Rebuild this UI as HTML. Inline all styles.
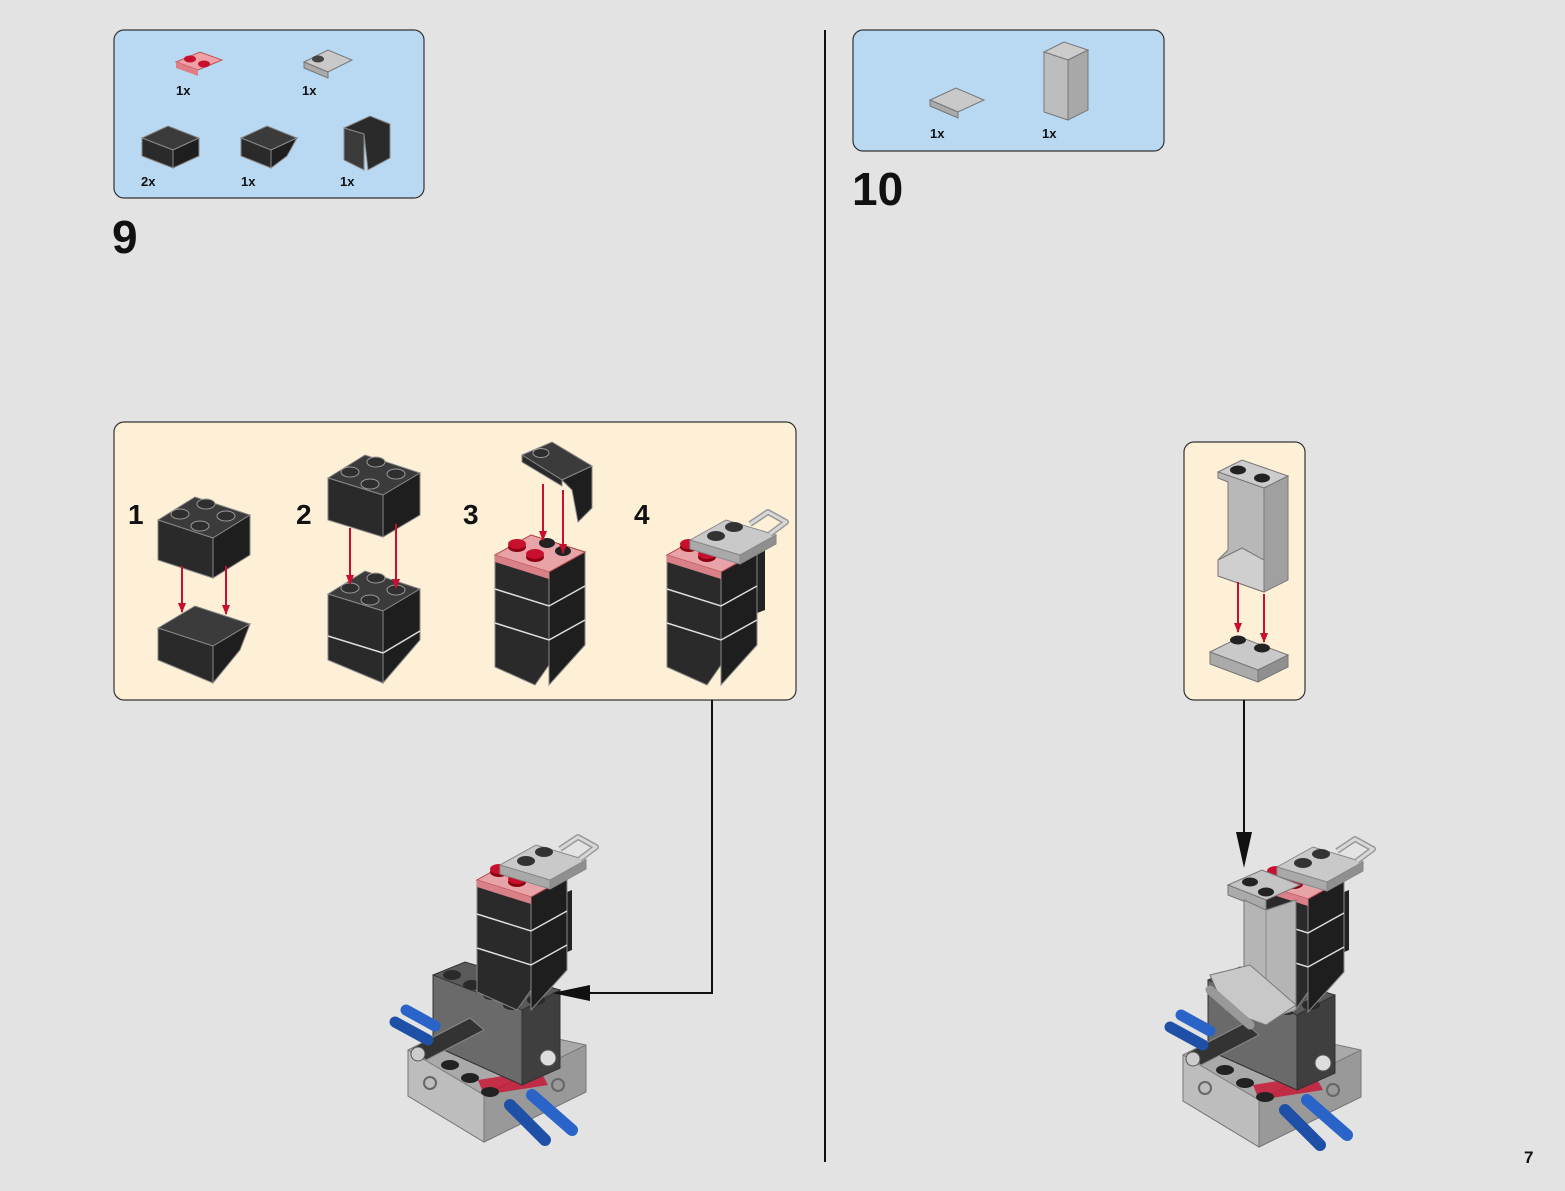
<!DOCTYPE html>
<html><head><meta charset="utf-8"><style>
html,body{margin:0;padding:0;background:#e3e3e3;}
svg{display:block}
text{font-family:"Liberation Sans",Arial,sans-serif;font-weight:bold;fill:#111}
</style></head><body>
<svg width="1565" height="1191" viewBox="0 0 1565 1191" xmlns="http://www.w3.org/2000/svg">
<defs>
<marker id="ra" markerWidth="10" markerHeight="8" refX="9" refY="4" orient="auto" markerUnits="userSpaceOnUse" viewBox="0 0 10 8"><path d="M0,0 L10,4 L0,8z" fill="#c8102e"/></marker>
<g id="tower">
 <polygon points="0,10 36,-10 90,7 54,27" fill="#3b3b3b" stroke="#777" stroke-width="1"/>
 <polygon points="0,10 54,27 54,120 40,140 0,122" fill="#2a2a2a" stroke="#888" stroke-width="1"/>
 <polygon points="54,27 90,7 90,100 72,120 54,140 54,120" fill="#1e1e1e" stroke="#888" stroke-width="1"/>
 <path d="M0,44 L54,61 L90,41 M0,78 L54,95 L90,75" stroke="#ddd" stroke-width="1.5" fill="none"/>
</g>
<g id="redtop">
 <polygon points="0,10 36,-10 90,7 54,27" fill="#e8a3a8" stroke="#b44" stroke-width="1"/>
 <polygon points="0,10 54,27 54,34 0,17" fill="#d98088"/>
 <ellipse cx="22" cy="2" rx="9" ry="5" fill="#8a0010"/><ellipse cx="22" cy="-1" rx="9" ry="5" fill="#c8102e"/>
 <ellipse cx="40" cy="12" rx="9" ry="5" fill="#8a0010"/><ellipse cx="40" cy="9" rx="9" ry="5" fill="#c8102e"/>
 <ellipse cx="52" cy="-2" rx="8" ry="5" fill="#222"/><ellipse cx="68" cy="6" rx="8" ry="5" fill="#222"/>
</g>
<g id="grayplate">
 <polygon points="0,10 36,-10 86,5 50,25" fill="#c9c9c9" stroke="#888"/>
 <polygon points="0,10 50,25 50,34 0,19" fill="#a9a9a9" stroke="#888"/>
 <polygon points="50,25 86,5 86,14 50,34" fill="#8f8f8f" stroke="#888"/>
 <ellipse cx="26" cy="6" rx="9" ry="5" fill="#333"/><ellipse cx="44" cy="-3" rx="9" ry="5" fill="#333"/>
 <path d="M60,-6 L78,-18 L96,-8 L80,4" stroke="#999" stroke-width="6" fill="none" stroke-linejoin="round"/>
 <path d="M60,-6 L78,-18 L96,-8 L80,4" stroke="#d8d8d8" stroke-width="3" fill="none" stroke-linejoin="round"/>
</g>
<g id="base">
 <polygon points="408,1050 470,1020 586,1045 586,1092 484,1142 408,1096" fill="#a9a9a9" stroke="#777"/>
 <polygon points="408,1050 484,1095 484,1142 408,1096" fill="#bdbdbd" stroke="#777"/>
 <polygon points="484,1095 586,1045 586,1092 484,1142" fill="#999" stroke="#777"/>
 <circle cx="430" cy="1083" r="6" fill="none" stroke="#666" stroke-width="2"/>
 <circle cx="558" cy="1085" r="6" fill="none" stroke="#666" stroke-width="2"/>
 <polygon points="478,1080 540,1070 548,1085 484,1095" fill="#c8102e" opacity="0.8"/>
 <ellipse cx="450" cy="1065" rx="9" ry="5" fill="#222"/><ellipse cx="470" cy="1078" rx="9" ry="5" fill="#222"/><ellipse cx="490" cy="1092" rx="9" ry="5" fill="#222"/>
 <polygon points="433,975 465,962 560,990 560,1068 522,1085 433,1045" fill="#5a5a5a" stroke="#333"/>
 <polygon points="522,1010 560,990 560,1068 522,1085" fill="#3f3f3f" stroke="#333"/>
 <polygon points="433,975 522,1010 522,1085 433,1045" fill="#6a6a6a" stroke="#333"/>
 <ellipse cx="452" cy="975" rx="9" ry="5" fill="#2a2a2a"/><ellipse cx="472" cy="985" rx="9" ry="5" fill="#2a2a2a"/>
 <ellipse cx="492" cy="995" rx="9" ry="5" fill="#2a2a2a"/><ellipse cx="512" cy="1005" rx="9" ry="5" fill="#2a2a2a"/>
 <ellipse cx="536" cy="1000" rx="9" ry="5" fill="#2a2a2a"/>
 <circle cx="548" cy="1058" r="8" fill="#ddd" stroke="#555"/>
 <polygon points="412,1048 470,1018 484,1030 426,1060" fill="#333" stroke="#888"/>
 <circle cx="418" cy="1054" r="7" fill="#ccc" stroke="#555"/>
 <line x1="395" y1="1022" x2="428" y2="1040" stroke="#1e50a8" stroke-width="11" stroke-linecap="round"/>
 <line x1="406" y1="1010" x2="435" y2="1026" stroke="#2a64c8" stroke-width="11" stroke-linecap="round"/>
 <line x1="510" y1="1105" x2="545" y2="1140" stroke="#1e50a8" stroke-width="12" stroke-linecap="round"/>
 <line x1="532" y1="1095" x2="572" y2="1130" stroke="#2a64c8" stroke-width="12" stroke-linecap="round"/>
</g>
</defs>

<line x1="825" y1="30" x2="825" y2="1162" stroke="#111" stroke-width="2"/>

<rect x="114" y="30" width="310" height="168" rx="10" fill="#b9d9f3" stroke="#333" stroke-width="1.2"/>
<polygon points="176,62 200,52 222,60 198,70" fill="#f0a0a8" stroke="#b55"/><polygon points="176,62 198,70 198,76 176,68" fill="#e07e88"/>
<ellipse cx="190" cy="59" rx="6" ry="3.5" fill="#c8102e"/><ellipse cx="204" cy="64" rx="6" ry="3.5" fill="#c8102e"/>
<text x="176" y="95" font-size="13">1x</text>
<polygon points="304,62 328,50 352,60 328,72" fill="#c9c9c9" stroke="#777"/><polygon points="304,62 328,72 328,78 304,68" fill="#aaa" stroke="#777"/>
<ellipse cx="318" cy="59" rx="6" ry="3.5" fill="#444"/>
<text x="302" y="95" font-size="13">1x</text>
<polygon points="142,138 168,126 199,138 173,150" fill="#3b3b3b" stroke="#888"/><polygon points="142,138 173,150 173,168 142,156" fill="#2a2a2a" stroke="#888"/><polygon points="173,150 199,138 199,156 173,168" fill="#1e1e1e" stroke="#888"/>
<text x="141" y="186" font-size="13">2x</text>
<polygon points="241,138 267,126 297,138 271,150" fill="#3b3b3b" stroke="#888"/><polygon points="241,138 271,150 271,168 241,156" fill="#2a2a2a" stroke="#888"/><polygon points="271,150 297,138 287,156 271,168" fill="#1e1e1e" stroke="#888"/>
<text x="241" y="186" font-size="13">1x</text>
<polygon points="344,128 370,116 390,124 390,158 368,170 364,134" fill="#2a2a2a" stroke="#888"/><polygon points="344,128 364,134 364,170 344,160" fill="#3b3b3b" stroke="#888"/>
<text x="340" y="186" font-size="13">1x</text>
<text x="112" y="253" font-size="46">9</text>

<rect x="853" y="30" width="311" height="121" rx="10" fill="#b9d9f3" stroke="#333" stroke-width="1.2"/>
<polygon points="930,100 956,88 984,100 958,112" fill="#c9c9c9" stroke="#777"/><polygon points="930,100 958,112 958,118 930,106" fill="#aaa" stroke="#777"/>
<text x="930" y="138" font-size="13">1x</text>
<polygon points="1044,52 1064,42 1088,50 1068,60" fill="#ccc" stroke="#777"/>
<polygon points="1068,60 1088,50 1088,110 1068,120" fill="#a8a8a8" stroke="#777"/>
<polygon points="1044,52 1068,60 1068,120 1044,112" fill="#bdbdbd" stroke="#777"/>
<text x="1042" y="138" font-size="13">1x</text>
<text x="852" y="205" font-size="46">10</text>

<rect x="114" y="422" width="682" height="278" rx="10" fill="#fdf0d6" stroke="#333" stroke-width="1.2"/>
<text x="128" y="524" font-size="28">1</text>
<text x="296" y="524" font-size="28">2</text>
<text x="463" y="524" font-size="28">3</text>
<text x="634" y="524" font-size="28">4</text>

<polygon points="158,520 195,497 250,515 213,538" fill="#3b3b3b" stroke="#888"/>
<polygon points="158,520 213,538 213,578 158,560" fill="#2a2a2a" stroke="#888"/>
<polygon points="213,538 250,515 250,555 213,578" fill="#1e1e1e" stroke="#888"/>
<ellipse cx="180" cy="514" rx="9" ry="5" fill="#2f2f2f" stroke="#999"/><ellipse cx="200" cy="526" rx="9" ry="5" fill="#2f2f2f" stroke="#999"/>
<ellipse cx="206" cy="504" rx="9" ry="5" fill="#2f2f2f" stroke="#999"/><ellipse cx="226" cy="516" rx="9" ry="5" fill="#2f2f2f" stroke="#999"/>
<polygon points="158,628 195,606 250,624 213,646" fill="#3b3b3b" stroke="#888"/>
<polygon points="158,628 213,646 213,683 158,660" fill="#2a2a2a" stroke="#888"/>
<polygon points="213,646 250,624 240,650 213,683" fill="#1e1e1e" stroke="#888"/>
<line x1="182" y1="566" x2="182" y2="612" stroke="#c8102e" stroke-width="2" marker-end="url(#ra)"/>
<line x1="226" y1="566" x2="226" y2="614" stroke="#c8102e" stroke-width="2" marker-end="url(#ra)"/>

<polygon points="328,478 365,455 420,473 383,495" fill="#3b3b3b" stroke="#888"/>
<polygon points="328,478 383,495 383,537 328,520" fill="#2a2a2a" stroke="#888"/>
<polygon points="383,495 420,473 420,515 383,537" fill="#1e1e1e" stroke="#888"/>
<ellipse cx="350" cy="472" rx="9" ry="5" fill="#2f2f2f" stroke="#999"/><ellipse cx="370" cy="484" rx="9" ry="5" fill="#2f2f2f" stroke="#999"/>
<ellipse cx="376" cy="462" rx="9" ry="5" fill="#2f2f2f" stroke="#999"/><ellipse cx="396" cy="474" rx="9" ry="5" fill="#2f2f2f" stroke="#999"/>
<polygon points="328,594 365,571 420,589 383,611" fill="#3b3b3b" stroke="#888"/>
<polygon points="328,594 383,611 383,683 328,660" fill="#2a2a2a" stroke="#888"/>
<polygon points="383,611 420,589 420,640 383,683" fill="#1e1e1e" stroke="#888"/>
<line x1="328" y1="636" x2="383" y2="653" stroke="#ddd" stroke-width="1.5"/><line x1="383" y1="653" x2="420" y2="631" stroke="#ddd" stroke-width="1.5"/>
<ellipse cx="350" cy="588" rx="9" ry="5" fill="#2f2f2f" stroke="#999"/><ellipse cx="370" cy="600" rx="9" ry="5" fill="#2f2f2f" stroke="#999"/>
<ellipse cx="376" cy="578" rx="9" ry="5" fill="#2f2f2f" stroke="#999"/><ellipse cx="396" cy="590" rx="9" ry="5" fill="#2f2f2f" stroke="#999"/>
<line x1="350" y1="528" x2="350" y2="584" stroke="#c8102e" stroke-width="2" marker-end="url(#ra)"/>
<line x1="396" y1="524" x2="396" y2="588" stroke="#c8102e" stroke-width="2" marker-end="url(#ra)"/>

<use href="#tower" x="495" y="545"/>
<use href="#redtop" x="495" y="545"/>
<polygon points="522,455 552,442 592,466 562,480" fill="#3b3b3b" stroke="#888"/>
<polygon points="562,480 592,466 592,508 578,522 572,490" fill="#1e1e1e" stroke="#888"/>
<polygon points="522,455 562,480 562,486 522,462" fill="#2a2a2a" stroke="#888"/>
<ellipse cx="541" cy="453" rx="8" ry="4.5" fill="#2f2f2f" stroke="#999"/>
<line x1="543" y1="484" x2="543" y2="540" stroke="#c8102e" stroke-width="2" marker-end="url(#ra)"/>
<line x1="563" y1="490" x2="563" y2="553" stroke="#c8102e" stroke-width="2" marker-end="url(#ra)"/>

<polygon points="752,555 765,550 765,610 752,615" fill="#222"/>
<use href="#tower" x="667" y="545"/>
<use href="#redtop" x="667" y="545"/>
<use href="#grayplate" x="690" y="530"/>

<use href="#base"/>
<polygon points="560,895 572,890 572,950 560,955" fill="#222"/>
<use href="#tower" x="477" y="870"/>
<use href="#redtop" x="477" y="870"/>
<use href="#grayplate" x="500" y="855"/>

<polyline points="712,700 712,993 575,993" fill="none" stroke="#111" stroke-width="2"/>
<polygon points="552,993 590,985 590,1001" fill="#111"/>

<rect x="1184" y="442" width="121" height="258" rx="10" fill="#fdf0d6" stroke="#333" stroke-width="1.2"/>
<polygon points="1218,472 1242,460 1288,476 1264,488" fill="#ccc" stroke="#777"/>
<polygon points="1264,488 1288,476 1288,580 1264,592" fill="#a0a0a0" stroke="#777"/>
<polygon points="1218,472 1264,488 1264,592 1218,576 1218,560 1228,550 1228,482 1218,478" fill="#b8b8b8" stroke="#777"/>
<polygon points="1218,560 1242,548 1264,560 1264,592 1218,576" fill="#cfcfcf" stroke="#777"/>
<ellipse cx="1238" cy="470" rx="8" ry="4.5" fill="#222"/><ellipse cx="1262" cy="478" rx="8" ry="4.5" fill="#222"/>
<polygon points="1210,652 1240,637 1288,655 1258,670" fill="#c9c9c9" stroke="#777"/>
<polygon points="1210,652 1258,670 1258,682 1210,664" fill="#aaa" stroke="#777"/>
<polygon points="1258,670 1288,655 1288,667 1258,682" fill="#8f8f8f" stroke="#777"/>
<ellipse cx="1238" cy="640" rx="8" ry="4.5" fill="#222"/><ellipse cx="1262" cy="648" rx="8" ry="4.5" fill="#222"/>
<line x1="1238" y1="582" x2="1238" y2="632" stroke="#c8102e" stroke-width="2" marker-end="url(#ra)"/>
<line x1="1264" y1="594" x2="1264" y2="642" stroke="#c8102e" stroke-width="2" marker-end="url(#ra)"/>

<line x1="1244" y1="700" x2="1244" y2="845" stroke="#111" stroke-width="2"/>
<polygon points="1244,868 1236,832 1252,832" fill="#111"/>

<g transform="translate(775,5)"><use href="#base"/></g>
<polygon points="1337,895 1349,890 1349,950 1337,955" fill="#222"/>
<use href="#tower" x="1254" y="872"/>
<use href="#redtop" x="1254" y="872"/>
<use href="#grayplate" x="1277" y="857"/>
<polygon points="1228,885 1262,870 1300,885 1266,900" fill="#c4c4c4" stroke="#777"/>
<polygon points="1228,885 1266,900 1266,910 1228,895" fill="#aaa" stroke="#777"/>
<ellipse cx="1250" cy="882" rx="8" ry="4.5" fill="#222"/><ellipse cx="1266" cy="892" rx="8" ry="4.5" fill="#222"/>
<polygon points="1244,900 1266,910 1296,900 1296,1010 1266,1020 1244,1010" fill="#b5b5b5" stroke="#777"/>
<line x1="1266" y1="910" x2="1266" y2="1020" stroke="#888"/>
<polygon points="1210,975 1250,965 1296,1005 1266,1025 1225,1010" fill="#c8c8c8" stroke="#777"/>
<line x1="1210" y1="990" x2="1250" y2="1025" stroke="#999" stroke-width="9" stroke-linecap="round"/>

<text x="1524" y="1163" font-size="17">7</text>
</svg>
</body></html>
